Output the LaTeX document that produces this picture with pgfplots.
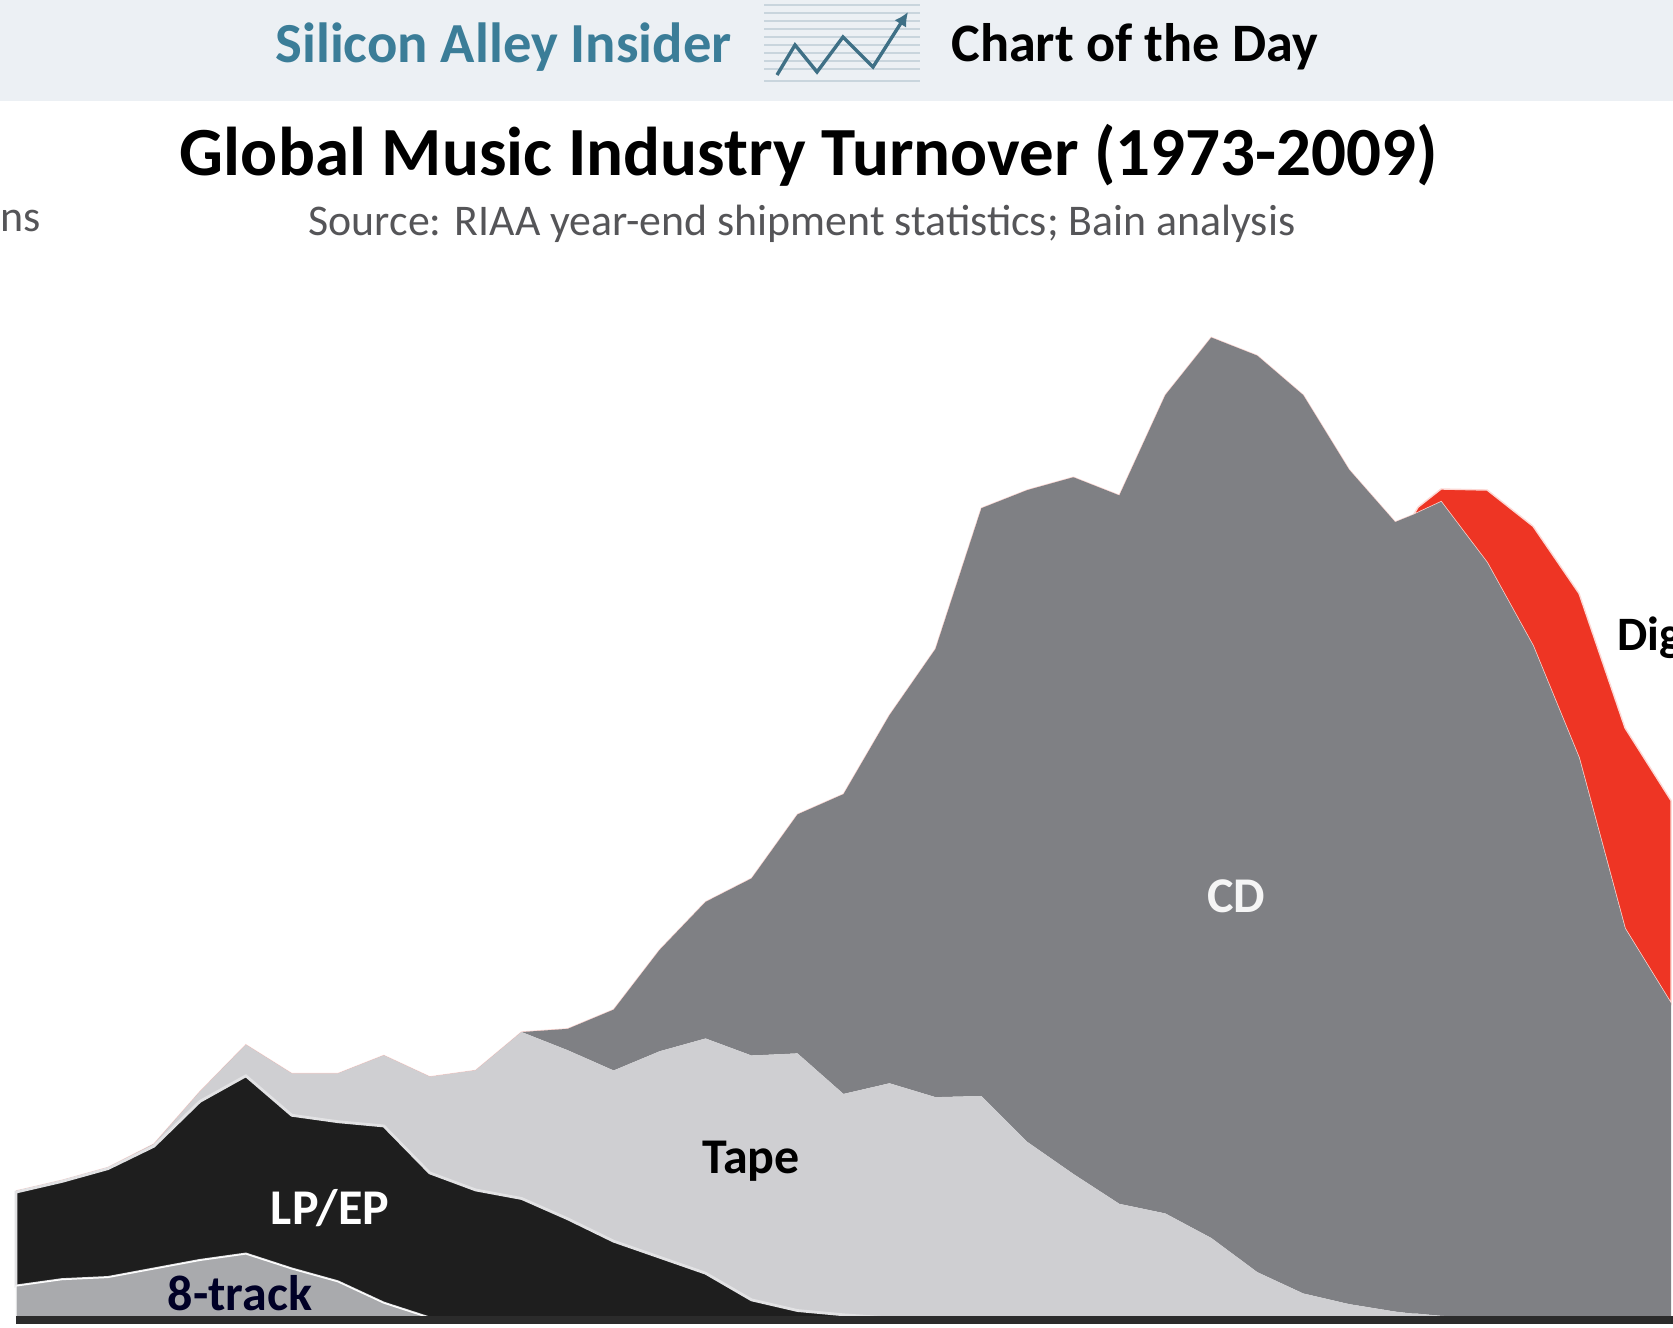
\documentclass[border=0pt]{standalone}
\usepackage{fontspec}
\setmainfont{Carlito}
\usepackage{pgfplots}
\usepackage{pgfplotstable}
\usetikzlibrary{arrows.meta}
\pgfplotsset{compat=1.18}
\definecolor{banner}{HTML}{ECF0F4}
\definecolor{siteblue}{HTML}{3B7D98}
\definecolor{iconline}{HTML}{C9D5DD}
\definecolor{iconzig}{HTML}{3F7086}
\definecolor{cdgrey}{HTML}{7F8084}
\definecolor{tapegrey}{HTML}{CFCFD2}
\definecolor{lpblack}{HTML}{1E1E1E}
\definecolor{trackgrey}{HTML}{A9AAAD}
\definecolor{digred}{HTML}{EE3524}
\definecolor{basedark}{HTML}{2B2B2B}
\definecolor{subgrey}{HTML}{555558}
% Yearly thickness of each format, bottom layer first
\pgfplotstableread{
year eight lp tape cd dig
1973 30 88 1 0 0
1974 36 92 1 0 0
1975 38 102 1 0 0
1976 46 115 2 0 0
1977 54 149 9 0 0
1978 60 167 29 0 0
1979 46 144 39 0 0
1980 34 150 45 0 0
1981 14 166 66 0 0
1982 0 136 90 0 0
1983 0 120 112 0 0
1984 0 112 156 0 0
1985 0 93 158 20 0
1986 0 72 160 57 0
1987 0 57 193 95 0
1988 0 42 220 128 0
1989 0 17 229 166 0
1990 0 7 241 224 0
1991 0 3 207 281 0
1992 0 0 220 345 0
1993 0 0 207 420 0
1994 0 0 208 551 0
1995 0 0 165 611 0
1996 0 0 135 653 0
1997 0 0 107 664 0
1998 0 0 98 767 0
1999 0 0 75 844 0
2000 0 0 43 859 0
2001 0 0 23 842 0
2002 0 0 13 782 0
2003 0 0 6 740 0
2003.4 0 0 4 749 0
2003.5 0 0 4 751 5
2004 0 0 2 763 12
2005 0 0 0 708 68
2006 0 0 0 630 112
2007 0 0 0 525 154
2008 0 0 0 365 188
2009 0 0 0 295 190
}\turnover
\begin{document}
\begin{tikzpicture}
\useasboundingbox (0,0) rectangle (836.5pt,663.5pt);
\fill[white] (0,0) rectangle (836.5pt,663.5pt);
\begin{axis}[
  at={(8pt,4.5pt)}, anchor=south west,
  scale only axis, width=827.5pt, height=506.8pt,
  xmin=1973, xmax=2009, ymin=0, ymax=950,
  hide axis, stack plots=y, clip=false]
\addplot[fill=trackgrey, draw=white, line width=0.6pt] table[x=year,y=eight] {\turnover} \closedcycle;
\addplot[fill=lpblack, draw=tapegrey!60!white, line width=1.4pt] table[x=year,y=lp] {\turnover} \closedcycle;
\addplot[fill=tapegrey, draw=none] table[x=year,y=tape] {\turnover} \closedcycle;
\addplot[fill=cdgrey, draw=none] table[x=year,y=cd] {\turnover} \closedcycle;
\addplot[fill=digred, draw=white!80!digred, line width=0.7pt] table[x=year,y=dig] {\turnover} \closedcycle;
\end{axis}
\begin{scope}[shift={(0,663.5pt)}, x=0.5pt, y=-0.5pt]
  \clip (0,0) rectangle (1673,1327);
  % header band
  \fill[banner] (0,0) rectangle (1673,101);
  \foreach \ly in {5,13,21,29,37,45,53,61,69,81}
    \draw[iconline, line width=0.8pt] (764,\ly) -- (920,\ly);
  \draw[iconzig, line width=1.7pt, -{Latex[length=7pt,width=7pt]}] (777,75) -- (795,45) -- (817,72) -- (843,37) -- (873,67) -- (908,12);
  \node[anchor=west, inner sep=0, text=siteblue] at (275,47) {\fontsize{28.3}{28.3}\selectfont\bfseries Silicon Alley Insider};
  \node[anchor=west, inner sep=0, text=black] at (951,47) {\fontsize{27.1}{27.1}\selectfont\bfseries Chart of the Day};
  % titles
  \node[inner sep=0, text=black] at (809,155) {\fontsize{34.5}{34.5}\selectfont\bfseries Global Music Industry Turnover (1973-2009)};
  \node[inner sep=0, text=subgrey] at (802,224) {\fontsize{21.9}{21.9}\selectfont Source: RIAA year-end shipment statistics; Bain analysis};
  \node[anchor=west, inner sep=0, text=subgrey] at (0,221) {\fontsize{22}{22}\selectfont ns};
  % baseline
  \fill[basedark] (16,1316) rectangle (1673,1324);
  % series names
  \node[inner sep=0, text=white!92!cdgrey] at (1236,896) {\fontsize{25}{25}\selectfont\bfseries CD};
  \node[inner sep=0, text=white] at (330,1208) {\fontsize{25}{25}\selectfont\bfseries LP/EP};
  \node[inner sep=0, text=black] at (751,1161) {\fontsize{25}{25}\selectfont\bfseries Tape};
  \node[inner sep=0, text=black!85!blue] at (240,1293) {\fontsize{25}{25}\selectfont\bfseries 8-track};
  \node[anchor=west, inner sep=0, text=black] at (1617,638) {\fontsize{24}{24}\selectfont\bfseries Digital};
\end{scope}
\end{tikzpicture}
\end{document}
